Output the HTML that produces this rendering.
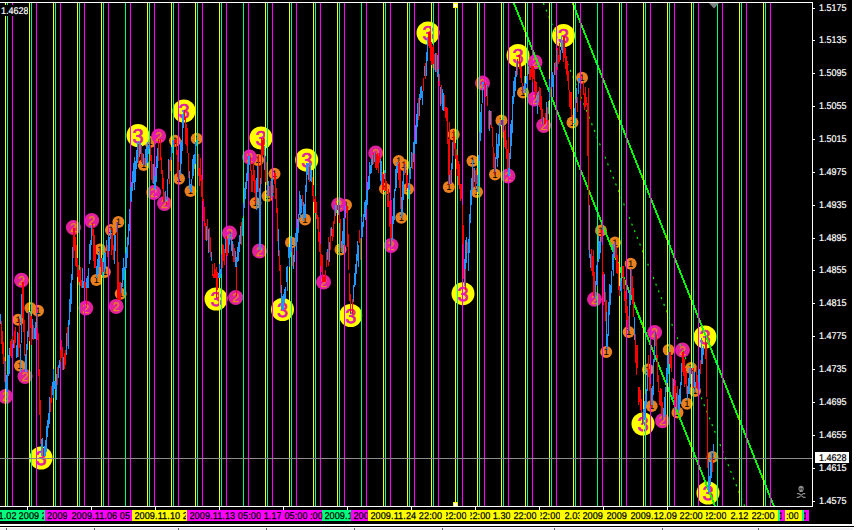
<!DOCTYPE html>
<html><head><meta charset="utf-8"><title>EURUSD H1 chart</title>
<style>
html,body{margin:0;padding:0;background:#fff;overflow:hidden}
#c{position:relative;width:856px;height:530px;background:#fff;overflow:hidden;font-family:"Liberation Sans",sans-serif;font-size:9.8px;line-height:11px;text-rendering:geometricPrecision}
.pl{position:absolute;left:818.5px;transform:scaleX(0.918);transform-origin:0 0;color:#fff;height:11px;letter-spacing:0px;white-space:nowrap;-webkit-text-stroke:0.2px #fff}
.sg{position:absolute;top:510px;height:11px}
#tb{position:absolute;left:0;top:0;width:915px;height:530px;transform:scaleX(0.935);transform-origin:0 0;pointer-events:none}
.tl{position:absolute;top:511px;height:10px;color:#000;white-space:pre;overflow:hidden;letter-spacing:0.07px;-webkit-text-stroke:0.25px #000}
#tl0{position:absolute;left:0;top:5px;width:28px;height:11px;padding-top:1px;overflow:hidden;background:#000;color:#fff;letter-spacing:0px;-webkit-text-stroke:0.2px #fff;padding-left:1px;box-sizing:border-box}
#bid{position:absolute;left:815px;top:452px;width:34px;height:11px;padding-top:1px;overflow:hidden;background:#fff;color:#000;letter-spacing:0px;-webkit-text-stroke:0.2px #000;padding-left:3.5px;box-sizing:border-box}
#sk{position:absolute;left:795px;top:483px;width:12px;height:16px;color:#808080;font-family:"DejaVu Sans",sans-serif;font-size:12px;line-height:16px;text-align:center}
.sx{display:inline-block;transform:scaleX(0.918);transform-origin:0 0}
#bl{position:absolute;left:0;top:526px;width:854px;height:1px;background:#000}
#bg{position:absolute;left:0;top:528px;width:853px;height:2px;background:#f0f0f4}
.bt{position:absolute;top:528px;width:1px;height:2px;background:#606060}
</style></head><body>
<div id="c">
<svg width="852" height="524" viewBox="0 0 852 524" style="position:absolute;left:0;top:0">
<rect width="852" height="524" fill="#000"/>
<g font-family="'Liberation Sans',sans-serif">
<circle cx="18.2" cy="319.7" r="6.0" fill="#e88020"/>
<text x="18.2" y="323.1" font-size="9.5" fill="#000" text-anchor="middle">1</text>
<circle cx="20.0" cy="365.7" r="6.0" fill="#e88020"/>
<text x="20.0" y="369.1" font-size="9.5" fill="#000" text-anchor="middle">1</text>
<circle cx="30.4" cy="308.0" r="6.0" fill="#e88020"/>
<text x="30.4" y="311.4" font-size="9.5" fill="#000" text-anchor="middle">1</text>
<circle cx="38.0" cy="310.7" r="6.0" fill="#e88020"/>
<text x="38.0" y="314.1" font-size="9.5" fill="#000" text-anchor="middle">1</text>
<circle cx="96.4" cy="280.0" r="6.0" fill="#e88020"/>
<text x="96.4" y="283.4" font-size="9.5" fill="#000" text-anchor="middle">1</text>
<circle cx="100.0" cy="249.5" r="6.0" fill="#e88020"/>
<text x="100.0" y="252.9" font-size="9.5" fill="#000" text-anchor="middle">1</text>
<circle cx="102.5" cy="272.0" r="6.0" fill="#e88020"/>
<text x="102.5" y="275.4" font-size="9.5" fill="#000" text-anchor="middle">1</text>
<circle cx="104.8" cy="272.0" r="6.0" fill="#e88020"/>
<text x="104.8" y="275.4" font-size="9.5" fill="#000" text-anchor="middle">1</text>
<circle cx="111.0" cy="230.0" r="6.0" fill="#e88020"/>
<text x="111.0" y="233.4" font-size="9.5" fill="#000" text-anchor="middle">1</text>
<circle cx="118.4" cy="222.0" r="6.0" fill="#e88020"/>
<text x="118.4" y="225.4" font-size="9.5" fill="#000" text-anchor="middle">1</text>
<circle cx="120.7" cy="293.8" r="6.0" fill="#e88020"/>
<text x="120.7" y="297.2" font-size="9.5" fill="#000" text-anchor="middle">1</text>
<circle cx="143.7" cy="165.0" r="6.0" fill="#e88020"/>
<text x="143.7" y="168.4" font-size="9.5" fill="#000" text-anchor="middle">1</text>
<circle cx="150.0" cy="142.0" r="6.0" fill="#e88020"/>
<text x="150.0" y="145.4" font-size="9.5" fill="#000" text-anchor="middle">1</text>
<circle cx="175.0" cy="140.7" r="6.0" fill="#e88020"/>
<text x="175.0" y="144.1" font-size="9.5" fill="#000" text-anchor="middle">1</text>
<circle cx="179.0" cy="178.7" r="6.0" fill="#e88020"/>
<text x="179.0" y="182.1" font-size="9.5" fill="#000" text-anchor="middle">1</text>
<circle cx="190.5" cy="191.0" r="6.0" fill="#e88020"/>
<text x="190.5" y="194.4" font-size="9.5" fill="#000" text-anchor="middle">1</text>
<circle cx="196.7" cy="138.7" r="6.0" fill="#e88020"/>
<text x="196.7" y="142.1" font-size="9.5" fill="#000" text-anchor="middle">1</text>
<circle cx="255.5" cy="203.0" r="6.0" fill="#e88020"/>
<text x="255.5" y="206.4" font-size="9.5" fill="#000" text-anchor="middle">1</text>
<circle cx="258.0" cy="160.0" r="6.0" fill="#e88020"/>
<text x="258.0" y="163.4" font-size="9.5" fill="#000" text-anchor="middle">1</text>
<circle cx="267.5" cy="196.0" r="6.0" fill="#e88020"/>
<text x="267.5" y="199.4" font-size="9.5" fill="#000" text-anchor="middle">1</text>
<circle cx="274.5" cy="173.7" r="6.0" fill="#e88020"/>
<text x="274.5" y="177.1" font-size="9.5" fill="#000" text-anchor="middle">1</text>
<circle cx="291.0" cy="242.5" r="6.0" fill="#e88020"/>
<text x="291.0" y="245.9" font-size="9.5" fill="#000" text-anchor="middle">1</text>
<circle cx="305.0" cy="219.5" r="6.0" fill="#e88020"/>
<text x="305.0" y="222.9" font-size="9.5" fill="#000" text-anchor="middle">1</text>
<circle cx="340.5" cy="249.5" r="6.0" fill="#e88020"/>
<text x="340.5" y="252.9" font-size="9.5" fill="#000" text-anchor="middle">1</text>
<circle cx="346.0" cy="205.0" r="6.0" fill="#e88020"/>
<text x="346.0" y="208.4" font-size="9.5" fill="#000" text-anchor="middle">1</text>
<circle cx="385.0" cy="188.7" r="6.0" fill="#e88020"/>
<text x="385.0" y="192.1" font-size="9.5" fill="#000" text-anchor="middle">1</text>
<circle cx="398.7" cy="161.0" r="6.0" fill="#e88020"/>
<text x="398.7" y="164.4" font-size="9.5" fill="#000" text-anchor="middle">1</text>
<circle cx="401.3" cy="217.8" r="6.0" fill="#e88020"/>
<text x="401.3" y="221.2" font-size="9.5" fill="#000" text-anchor="middle">1</text>
<circle cx="404.0" cy="165.0" r="6.0" fill="#e88020"/>
<text x="404.0" y="168.4" font-size="9.5" fill="#000" text-anchor="middle">1</text>
<circle cx="408.0" cy="189.0" r="6.0" fill="#e88020"/>
<text x="408.0" y="192.4" font-size="9.5" fill="#000" text-anchor="middle">1</text>
<circle cx="448.8" cy="187.0" r="6.0" fill="#e88020"/>
<text x="448.8" y="190.4" font-size="9.5" fill="#000" text-anchor="middle">1</text>
<circle cx="453.7" cy="134.5" r="6.0" fill="#e88020"/>
<text x="453.7" y="137.9" font-size="9.5" fill="#000" text-anchor="middle">1</text>
<circle cx="472.5" cy="161.0" r="6.0" fill="#e88020"/>
<text x="472.5" y="164.4" font-size="9.5" fill="#000" text-anchor="middle">1</text>
<circle cx="477.0" cy="192.0" r="6.0" fill="#e88020"/>
<text x="477.0" y="195.4" font-size="9.5" fill="#000" text-anchor="middle">1</text>
<circle cx="495.0" cy="174.5" r="6.0" fill="#e88020"/>
<text x="495.0" y="177.9" font-size="9.5" fill="#000" text-anchor="middle">1</text>
<circle cx="501.5" cy="120.5" r="6.0" fill="#e88020"/>
<text x="501.5" y="123.9" font-size="9.5" fill="#000" text-anchor="middle">1</text>
<circle cx="523.0" cy="92.5" r="6.0" fill="#e88020"/>
<text x="523.0" y="95.9" font-size="9.5" fill="#000" text-anchor="middle">1</text>
<circle cx="572.5" cy="122.5" r="6.0" fill="#e88020"/>
<text x="572.5" y="125.9" font-size="9.5" fill="#000" text-anchor="middle">1</text>
<circle cx="582.0" cy="77.8" r="6.0" fill="#e88020"/>
<text x="582.0" y="81.2" font-size="9.5" fill="#000" text-anchor="middle">1</text>
<circle cx="601.0" cy="230.5" r="6.0" fill="#e88020"/>
<text x="601.0" y="233.9" font-size="9.5" fill="#000" text-anchor="middle">1</text>
<circle cx="606.2" cy="352.0" r="6.0" fill="#e88020"/>
<text x="606.2" y="355.4" font-size="9.5" fill="#000" text-anchor="middle">1</text>
<circle cx="615.0" cy="242.5" r="6.0" fill="#e88020"/>
<text x="615.0" y="245.9" font-size="9.5" fill="#000" text-anchor="middle">1</text>
<circle cx="630.7" cy="263.7" r="6.0" fill="#e88020"/>
<text x="630.7" y="267.1" font-size="9.5" fill="#000" text-anchor="middle">1</text>
<circle cx="628.7" cy="332.0" r="6.0" fill="#e88020"/>
<text x="628.7" y="335.4" font-size="9.5" fill="#000" text-anchor="middle">1</text>
<circle cx="648.0" cy="369.5" r="6.0" fill="#e88020"/>
<text x="648.0" y="372.9" font-size="9.5" fill="#000" text-anchor="middle">1</text>
<circle cx="651.7" cy="406.0" r="6.0" fill="#e88020"/>
<text x="651.7" y="409.4" font-size="9.5" fill="#000" text-anchor="middle">1</text>
<circle cx="668.7" cy="350.0" r="6.0" fill="#e88020"/>
<text x="668.7" y="353.4" font-size="9.5" fill="#000" text-anchor="middle">1</text>
<circle cx="677.5" cy="412.5" r="6.0" fill="#e88020"/>
<text x="677.5" y="415.9" font-size="9.5" fill="#000" text-anchor="middle">1</text>
<circle cx="687.0" cy="403.7" r="6.0" fill="#e88020"/>
<text x="687.0" y="407.1" font-size="9.5" fill="#000" text-anchor="middle">1</text>
<circle cx="691.0" cy="368.0" r="6.0" fill="#e88020"/>
<text x="691.0" y="371.4" font-size="9.5" fill="#000" text-anchor="middle">1</text>
<circle cx="695.0" cy="391.0" r="6.0" fill="#e88020"/>
<text x="695.0" y="394.4" font-size="9.5" fill="#000" text-anchor="middle">1</text>
<circle cx="712.5" cy="457.0" r="6.0" fill="#e88020"/>
<text x="712.5" y="460.4" font-size="9.5" fill="#000" text-anchor="middle">1</text>
<circle cx="5.5" cy="396.5" r="7.5" fill="#e0209c"/>
<text x="5.5" y="401.0" font-size="12.5" fill="#e88020" stroke="#e88020" stroke-width="0.3" text-anchor="middle">2</text>
<circle cx="21.5" cy="280.3" r="7.5" fill="#e0209c"/>
<text x="21.5" y="284.8" font-size="12.5" fill="#e88020" stroke="#e88020" stroke-width="0.3" text-anchor="middle">2</text>
<circle cx="25.0" cy="376.5" r="7.5" fill="#e0209c"/>
<text x="25.0" y="381.0" font-size="12.5" fill="#e88020" stroke="#e88020" stroke-width="0.3" text-anchor="middle">2</text>
<circle cx="73.4" cy="227.5" r="7.5" fill="#e0209c"/>
<text x="73.4" y="232.0" font-size="12.5" fill="#e88020" stroke="#e88020" stroke-width="0.3" text-anchor="middle">2</text>
<circle cx="91.7" cy="220.6" r="7.5" fill="#e0209c"/>
<text x="91.7" y="225.1" font-size="12.5" fill="#e88020" stroke="#e88020" stroke-width="0.3" text-anchor="middle">2</text>
<circle cx="85.8" cy="308.0" r="7.5" fill="#e0209c"/>
<text x="85.8" y="312.5" font-size="12.5" fill="#e88020" stroke="#e88020" stroke-width="0.3" text-anchor="middle">2</text>
<circle cx="116.2" cy="306.4" r="7.5" fill="#e0209c"/>
<text x="116.2" y="310.9" font-size="12.5" fill="#e88020" stroke="#e88020" stroke-width="0.3" text-anchor="middle">2</text>
<circle cx="158.7" cy="136.0" r="7.5" fill="#e0209c"/>
<text x="158.7" y="140.5" font-size="12.5" fill="#e88020" stroke="#e88020" stroke-width="0.3" text-anchor="middle">2</text>
<circle cx="153.7" cy="192.5" r="7.5" fill="#e0209c"/>
<text x="153.7" y="197.0" font-size="12.5" fill="#e88020" stroke="#e88020" stroke-width="0.3" text-anchor="middle">2</text>
<circle cx="164.5" cy="203.5" r="7.5" fill="#e0209c"/>
<text x="164.5" y="208.0" font-size="12.5" fill="#e88020" stroke="#e88020" stroke-width="0.3" text-anchor="middle">2</text>
<circle cx="229.5" cy="233.0" r="7.5" fill="#e0209c"/>
<text x="229.5" y="237.5" font-size="12.5" fill="#e88020" stroke="#e88020" stroke-width="0.3" text-anchor="middle">2</text>
<circle cx="235.7" cy="297.5" r="7.5" fill="#e0209c"/>
<text x="235.7" y="302.0" font-size="12.5" fill="#e88020" stroke="#e88020" stroke-width="0.3" text-anchor="middle">2</text>
<circle cx="249.5" cy="157.0" r="7.5" fill="#e0209c"/>
<text x="249.5" y="161.5" font-size="12.5" fill="#e88020" stroke="#e88020" stroke-width="0.3" text-anchor="middle">2</text>
<circle cx="259.5" cy="251.0" r="7.5" fill="#e0209c"/>
<text x="259.5" y="255.5" font-size="12.5" fill="#e88020" stroke="#e88020" stroke-width="0.3" text-anchor="middle">2</text>
<circle cx="323.5" cy="282.0" r="7.5" fill="#e0209c"/>
<text x="323.5" y="286.5" font-size="12.5" fill="#e88020" stroke="#e88020" stroke-width="0.3" text-anchor="middle">2</text>
<circle cx="338.7" cy="204.7" r="7.5" fill="#e0209c"/>
<text x="338.7" y="209.2" font-size="12.5" fill="#e88020" stroke="#e88020" stroke-width="0.3" text-anchor="middle">2</text>
<circle cx="375.7" cy="153.0" r="7.5" fill="#e0209c"/>
<text x="375.7" y="157.5" font-size="12.5" fill="#e88020" stroke="#e88020" stroke-width="0.3" text-anchor="middle">2</text>
<circle cx="391.0" cy="245.5" r="7.5" fill="#e0209c"/>
<text x="391.0" y="250.0" font-size="12.5" fill="#e88020" stroke="#e88020" stroke-width="0.3" text-anchor="middle">2</text>
<circle cx="482.5" cy="83.0" r="7.5" fill="#e0209c"/>
<text x="482.5" y="87.5" font-size="12.5" fill="#e88020" stroke="#e88020" stroke-width="0.3" text-anchor="middle">2</text>
<circle cx="508.0" cy="176.0" r="7.5" fill="#e0209c"/>
<text x="508.0" y="180.5" font-size="12.5" fill="#e88020" stroke="#e88020" stroke-width="0.3" text-anchor="middle">2</text>
<circle cx="535.0" cy="62.0" r="7.5" fill="#e0209c"/>
<text x="535.0" y="66.5" font-size="12.5" fill="#e88020" stroke="#e88020" stroke-width="0.3" text-anchor="middle">2</text>
<circle cx="534.5" cy="99.0" r="7.5" fill="#e0209c"/>
<text x="534.5" y="103.5" font-size="12.5" fill="#e88020" stroke="#e88020" stroke-width="0.3" text-anchor="middle">2</text>
<circle cx="543.7" cy="125.5" r="7.5" fill="#e0209c"/>
<text x="543.7" y="130.0" font-size="12.5" fill="#e88020" stroke="#e88020" stroke-width="0.3" text-anchor="middle">2</text>
<circle cx="594.5" cy="299.3" r="7.5" fill="#e0209c"/>
<text x="594.5" y="303.8" font-size="12.5" fill="#e88020" stroke="#e88020" stroke-width="0.3" text-anchor="middle">2</text>
<circle cx="654.6" cy="332.5" r="7.5" fill="#e0209c"/>
<text x="654.6" y="337.0" font-size="12.5" fill="#e88020" stroke="#e88020" stroke-width="0.3" text-anchor="middle">2</text>
<circle cx="682.5" cy="350.0" r="7.5" fill="#e0209c"/>
<text x="682.5" y="354.5" font-size="12.5" fill="#e88020" stroke="#e88020" stroke-width="0.3" text-anchor="middle">2</text>
<circle cx="662.5" cy="420.8" r="7.5" fill="#e0209c"/>
<text x="662.5" y="425.3" font-size="12.5" fill="#e88020" stroke="#e88020" stroke-width="0.3" text-anchor="middle">2</text>
<circle cx="41.0" cy="458.0" r="11.5" fill="#ffff00"/>
<text x="41.0" y="465.1" font-size="20" fill="#e0209c" stroke="#e0209c" stroke-width="0.7" text-anchor="middle">3</text>
<circle cx="138.0" cy="135.5" r="11.5" fill="#ffff00"/>
<text x="138.0" y="142.6" font-size="20" fill="#e0209c" stroke="#e0209c" stroke-width="0.7" text-anchor="middle">3</text>
<circle cx="184.0" cy="111.0" r="11.5" fill="#ffff00"/>
<text x="184.0" y="118.1" font-size="20" fill="#e0209c" stroke="#e0209c" stroke-width="0.7" text-anchor="middle">3</text>
<circle cx="216.0" cy="299.0" r="11.5" fill="#ffff00"/>
<text x="216.0" y="306.1" font-size="20" fill="#e0209c" stroke="#e0209c" stroke-width="0.7" text-anchor="middle">3</text>
<circle cx="261.0" cy="138.0" r="11.5" fill="#ffff00"/>
<text x="261.0" y="145.1" font-size="20" fill="#e0209c" stroke="#e0209c" stroke-width="0.7" text-anchor="middle">3</text>
<circle cx="282.5" cy="309.5" r="11.5" fill="#ffff00"/>
<text x="282.5" y="316.6" font-size="20" fill="#e0209c" stroke="#e0209c" stroke-width="0.7" text-anchor="middle">3</text>
<circle cx="306.7" cy="160.0" r="11.5" fill="#ffff00"/>
<text x="306.7" y="167.1" font-size="20" fill="#e0209c" stroke="#e0209c" stroke-width="0.7" text-anchor="middle">3</text>
<circle cx="350.7" cy="315.5" r="11.5" fill="#ffff00"/>
<text x="350.7" y="322.6" font-size="20" fill="#e0209c" stroke="#e0209c" stroke-width="0.7" text-anchor="middle">3</text>
<circle cx="428.0" cy="33.0" r="11.5" fill="#ffff00"/>
<text x="428.0" y="40.1" font-size="20" fill="#e0209c" stroke="#e0209c" stroke-width="0.7" text-anchor="middle">3</text>
<circle cx="463.0" cy="293.7" r="11.5" fill="#ffff00"/>
<text x="463.0" y="300.8" font-size="20" fill="#e0209c" stroke="#e0209c" stroke-width="0.7" text-anchor="middle">3</text>
<circle cx="518.0" cy="55.5" r="11.5" fill="#ffff00"/>
<text x="518.0" y="62.6" font-size="20" fill="#e0209c" stroke="#e0209c" stroke-width="0.7" text-anchor="middle">3</text>
<circle cx="563.5" cy="35.5" r="11.5" fill="#ffff00"/>
<text x="563.5" y="42.6" font-size="20" fill="#e0209c" stroke="#e0209c" stroke-width="0.7" text-anchor="middle">3</text>
<circle cx="643.0" cy="424.0" r="11.5" fill="#ffff00"/>
<text x="643.0" y="431.1" font-size="20" fill="#e0209c" stroke="#e0209c" stroke-width="0.7" text-anchor="middle">3</text>
<circle cx="705.0" cy="337.0" r="11.5" fill="#ffff00"/>
<text x="705.0" y="344.1" font-size="20" fill="#e0209c" stroke="#e0209c" stroke-width="0.7" text-anchor="middle">3</text>
<circle cx="708.0" cy="493.0" r="11.5" fill="#ffff00"/>
<text x="708.0" y="500.1" font-size="20" fill="#e0209c" stroke="#e0209c" stroke-width="0.7" text-anchor="middle">3</text>
</g>
<clipPath id="cp"><rect x="0" y="3" width="812" height="503"/></clipPath>
<g clip-path="url(#cp)" shape-rendering="crispEdges" fill="none">
<path d="M513.8 3.0L715.0 506.0M572.6 3.0L773.8 506.0" stroke="#00ff00" stroke-width="2"/>
<path d="M543.4 3.0L744.6 506.0" stroke="#00ff00" stroke-width="1.15" stroke-dasharray="2 5.2" shape-rendering="auto"/>
</g>
<g shape-rendering="crispEdges" fill="none" stroke-width="1">
<path d="M5.5 3V506M29.5 3V506M53.5 3V506M77.5 3V506M101.5 3V506M147.5 3V506M171.5 3V506M195.5 3V506M219.5 3V506M265.5 3V506M289.5 3V506M313.5 3V506M337.5 3V506M383.5 3V506M407.5 3V506M431.5 3V506M455.5 3V506M477.5 3V506M501.5 3V506M525.5 3V506M549.5 3V506M573.5 3V506M619.5 3V506M643.5 3V506M667.5 3V506M691.5 3V506M739.5 3V506M763.5 3V506" stroke="#ffff00"/>
<path d="M7.5 3V506M31.5 3V506M55.5 3V506M79.5 3V506M103.5 3V506M125.5 3V506M149.5 3V506M173.5 3V506M197.5 3V506M221.5 3V506M243.5 3V506M267.5 3V506M291.5 3V506M315.5 3V506M339.5 3V506M361.5 3V506M385.5 3V506M409.5 3V506M433.5 3V506M457.5 3V506M479.5 3V506M503.5 3V506M527.5 3V506M551.5 3V506M575.5 3V506M597.5 3V506M621.5 3V506M645.5 3V506M669.5 3V506M693.5 3V506M717.5 3V506M741.5 3V506M765.5 3V506" stroke="#00ff7f"/>
<path d="M12.5 3V506M36.5 3V506M60.5 3V506M84.5 3V506M108.5 3V506M130.5 3V506M154.5 3V506M178.5 3V506M202.5 3V506M226.5 3V506M248.5 3V506M272.5 3V506M296.5 3V506M320.5 3V506M344.5 3V506M366.5 3V506M390.5 3V506M414.5 3V506M438.5 3V506M462.5 3V506M484.5 3V506M508.5 3V506M532.5 3V506M556.5 3V506M580.5 3V506M602.5 3V506M626.5 3V506M650.5 3V506M674.5 3V506M698.5 3V506M722.5 3V506M746.5 3V506M770.5 3V506" stroke="#ff00ff"/>
<path d="M0 458.5H812" stroke="#8c8c8c"/>
</g>
<g shape-rendering="crispEdges" fill="none" stroke-width="1">
<path d="M1.5 321V344M2.5 331V354M3.5 342V364M4.5 357V382M10.5 341V356M11.5 339V358M12.5 336V344M14.5 331V348M15.5 327V343M18.5 333V357M19.5 319V348M22.5 282V318M23.5 282V332M24.5 320V356M29.5 312V341M30.5 314V328M31.5 316V345M33.5 325V340M37.5 314V340M38.5 333V376M39.5 369V415M40.5 400V444M43.5 448V456M50.5 398V412M51.5 386V403M57.5 367V385M60.5 350V362M61.5 340V358M62.5 347V370M64.5 353V369M65.5 350V365M67.5 327V346M73.5 228V258M74.5 228V251M75.5 237V266M76.5 245V267M77.5 258V277M78.5 265V285M79.5 270V282M80.5 267V286M81.5 280V288M84.5 282V288M85.5 282V288M92.5 223V236M93.5 229V261M94.5 235V268M95.5 245V268M100.5 250V267M101.5 258V275M103.5 262V272M107.5 245V257M111.5 234V255M112.5 228V250M113.5 245V260M117.5 222V267M118.5 262V300M119.5 282V300M120.5 282V300M138.5 144V164M141.5 145V162M142.5 153V164M144.5 158V165M150.5 145V161M151.5 155V180M152.5 164V183M158.5 139V161M159.5 139V139M160.5 139V160M161.5 157V174M162.5 170V189M163.5 178V202M164.5 192V202M166.5 205V202M169.5 160V184M170.5 157V171M174.5 140V147M175.5 140V143M176.5 138V155M177.5 150V177M178.5 162V179M184.5 110V120M185.5 117V144M186.5 124V146M187.5 128V153M188.5 153V178M197.5 140V140M198.5 154V176M199.5 168V186M200.5 158V181M201.5 175V197M202.5 180V201M203.5 199V221M204.5 207V226M205.5 223V240M207.5 219V240M209.5 228V252M210.5 237V257M212.5 264V276M213.5 274V278M214.5 263V278M215.5 269V278M216.5 267V278M217.5 272V278M222.5 244V268M223.5 245V261M224.5 249V265M226.5 236V255M227.5 240V256M230.5 232V234M233.5 244V262M234.5 248V262M241.5 222V245M250.5 157V171M251.5 170V192M252.5 175V192M253.5 163V181M254.5 170V193M255.5 180V203M258.5 155V192M261.5 138V184M262.5 140V156M263.5 138V155M265.5 156V182M266.5 162V185M269.5 186V196M270.5 181V201M273.5 185V193M274.5 173V184M275.5 173V199M276.5 188V213M277.5 208V241M279.5 250V271M280.5 265V293M292.5 248V266M302.5 195V206M309.5 167V182M312.5 177V196M313.5 185V202M314.5 199V213M315.5 196V213M316.5 202V219M317.5 215V229M318.5 217V242M319.5 232V252M320.5 244V266M321.5 254V272M322.5 255V282M323.5 277V282M324.5 276V282M325.5 270V282M326.5 252V267M328.5 237V266M330.5 228V250M332.5 229V241M333.5 221V237M334.5 211V224M337.5 205V210M339.5 205V223M340.5 219V248M346.5 206V213M347.5 206V247M348.5 234V270M349.5 273V301M350.5 294V314M352.5 299V314M359.5 230V243M360.5 238V260M373.5 153V164M375.5 153V168M376.5 154V170M377.5 153V168M378.5 156V173M379.5 153V163M382.5 172V193M383.5 174V190M385.5 173V191M386.5 181V194M387.5 195V207M388.5 189V207M389.5 201V227M390.5 224V246M398.5 164V180M399.5 162V188M400.5 169V209M404.5 162V175M406.5 170V190M407.5 175V188M412.5 153V169M418.5 98V120M423.5 78V91M425.5 63V79M428.5 32V46M429.5 32V48M430.5 33V61M431.5 42V65M432.5 47V68M433.5 45V64M434.5 54V70M436.5 53V72M439.5 74V86M441.5 85V104M444.5 95V111M445.5 107V118M446.5 107V121M447.5 108V144M448.5 139V184M450.5 170V184M453.5 130V156M454.5 136V149M455.5 143V159M456.5 149V169M457.5 155V176M458.5 161V185M459.5 164V189M460.5 184V201M461.5 184V199M462.5 205V244M463.5 225V279M467.5 242V253M473.5 168V187M475.5 170V188M476.5 168V184M484.5 82V85M485.5 84V97M487.5 86V106M488.5 111V129M491.5 111V128M492.5 127V147M493.5 147V168M494.5 153V175M501.5 120V125M502.5 120V138M504.5 130V147M505.5 126V149M506.5 140V159M507.5 149V170M517.5 59V75M518.5 55V57M519.5 55V69M520.5 62V78M521.5 67V83M522.5 83V93M529.5 66V80M530.5 69V80M531.5 66V77M532.5 66V82M533.5 66V79M534.5 70V91M535.5 81V98M536.5 82V95M539.5 87V107M540.5 88V110M541.5 96V119M542.5 109V124M544.5 118V124M545.5 113V124M547.5 107V121M550.5 87V97M555.5 62V75M557.5 48V70M558.5 55V64M559.5 43V62M563.5 36V62M564.5 36V58M565.5 48V69M566.5 56V75M567.5 61V81M568.5 71V90M569.5 90V107M570.5 92V109M571.5 92V117M572.5 115V123M577.5 97V112M580.5 89V101M582.5 78V77M583.5 82V95M584.5 93V110M585.5 87V107M586.5 97V105M587.5 103V156M588.5 129V221M591.5 249V271M592.5 256V276M593.5 267V295M594.5 272V297M601.5 230V242M602.5 245V275M603.5 272V305M605.5 292V321M615.5 242V258M616.5 247V273M617.5 255V274M618.5 263V290M619.5 286V296M622.5 266V277M623.5 266V289M624.5 279V301M625.5 291V313M626.5 299V320M627.5 306V328M628.5 316V330M631.5 269V295M632.5 276V304M633.5 288V317M635.5 334V363M636.5 345V375M637.5 345V368M638.5 387V405M639.5 387V402M640.5 390V410M641.5 399V412M642.5 412V424M648.5 355V377M649.5 369V391M650.5 384V406M655.5 332V346M656.5 335V358M657.5 355V382M658.5 375V392M659.5 391V405M660.5 388V406M661.5 389V414M662.5 402V420M669.5 352V364M670.5 352V368M671.5 356V372M672.5 378V397M674.5 386V400M675.5 380V407M677.5 386V409M682.5 352V372M683.5 351V376M684.5 359V387M685.5 368V384M686.5 372V394M691.5 368V374M693.5 368V388M696.5 367V388M697.5 375V389M700.5 360V374M705.5 336V359M706.5 343V397M707.5 399V468M712.5 458V472M588.5 88V250M86.5 285V305M216.5 270V298M217.5 272V290M236.5 262V296M260.5 200V247M465.5 240V290M593.5 250V296M606.5 300V348M117.5 224V300M391.5 200V242M508.5 137V172M449.5 122V185" stroke="#ff0000"/>
<path d="M0.5 314V324M5.5 361V389M6.5 375V392M7.5 374V392M8.5 355V376M9.5 348V374M13.5 340V348M16.5 345V358M17.5 332V357M20.5 344V372M21.5 294V343M25.5 354V372M26.5 344V372M27.5 331V350M28.5 311V337M32.5 319V339M34.5 328V339M35.5 322V339M36.5 313V328M41.5 439V456M42.5 438V456M44.5 446V456M45.5 440V456M46.5 426V452M47.5 420V437M48.5 413V428M49.5 397V424M52.5 382V395M53.5 369V398M54.5 381V389M55.5 381V390M56.5 374V400M58.5 365V378M59.5 360V368M63.5 357V370M66.5 333V355M68.5 320V349M69.5 299V325M70.5 283V312M71.5 274V304M72.5 247V280M82.5 268V288M83.5 281V288M86.5 278V288M87.5 276V288M88.5 268V288M89.5 244V264M90.5 240V260M91.5 225V245M96.5 266V278M97.5 259V275M98.5 255V274M99.5 251V267M102.5 258V276M104.5 253V272M105.5 252V269M106.5 240V251M108.5 234V251M109.5 237V251M110.5 230V239M114.5 235V264M115.5 235V251M116.5 222V232M121.5 283V293M122.5 268V287M123.5 258V280M124.5 267V295M125.5 253V270M126.5 247V268M127.5 237V258M128.5 224V245M129.5 209V231M130.5 187V201M131.5 182V202M132.5 171V191M133.5 163V183M134.5 157V190M135.5 161V182M136.5 150V169M137.5 142V163M139.5 141V157M140.5 143V154M143.5 154V165M145.5 149V165M146.5 147V166M147.5 142V163M148.5 145V154M149.5 142V149M153.5 164V184M154.5 176V190M155.5 167V189M156.5 156V182M157.5 148V168M165.5 191V202M167.5 179V201M168.5 159V179M171.5 147V160M172.5 140V153M173.5 140V145M179.5 170V179M180.5 142V175M181.5 140V164M182.5 114V151M183.5 110V128M189.5 171V189M190.5 184V192M191.5 179V192M192.5 159V179M193.5 155V176M194.5 154V169M195.5 142V164M196.5 140V146M206.5 226V241M208.5 229V253M211.5 252V261M218.5 273V278M219.5 264V278M220.5 269V278M221.5 254V274M225.5 239V253M228.5 239V253M229.5 235V245M231.5 232V251M232.5 241V256M235.5 251V267M236.5 257V267M237.5 247V262M238.5 242V261M239.5 235V252M240.5 226V244M242.5 218V236M243.5 203V216M244.5 188V208M245.5 182V199M246.5 173V189M247.5 164V181M248.5 156V173M249.5 156V165M256.5 178V210M257.5 166V192M259.5 188V250M260.5 178V250M264.5 146V170M267.5 185V196M268.5 181V196M271.5 179V198M272.5 178V196M278.5 229V256M281.5 285V309M282.5 296V310M283.5 294V310M284.5 289V303M285.5 287V299M286.5 267V282M287.5 266V291M288.5 244V258M289.5 247V267M290.5 236V257M291.5 238V252M293.5 255V269M294.5 247V262M295.5 233V246M296.5 228V251M297.5 219V242M298.5 214V233M299.5 191V215M300.5 195V218M301.5 199V213M303.5 202V221M304.5 204V218M305.5 185V218M306.5 163V192M307.5 163V175M308.5 163V180M310.5 163V181M311.5 170V182M327.5 249V260M329.5 242V262M331.5 227V236M335.5 205V216M336.5 205V213M338.5 205V215M341.5 241V248M342.5 231V253M343.5 218V244M344.5 219V245M345.5 206V218M351.5 312V314M353.5 285V302M354.5 273V287M355.5 264V285M356.5 254V274M357.5 241V261M358.5 245V267M361.5 217V239M362.5 222V237M363.5 214V227M364.5 202V217M365.5 200V220M366.5 190V209M367.5 182V205M368.5 176V190M369.5 162V189M370.5 165V174M371.5 159V173M372.5 155V165M374.5 153V162M380.5 159V181M381.5 161V185M384.5 170V179M391.5 238V246M392.5 216V240M393.5 198V224M394.5 189V220M395.5 169V191M396.5 166V188M397.5 162V173M401.5 197V218M402.5 181V215M403.5 171V200M405.5 164V173M408.5 185V199M409.5 173V190M410.5 167V179M411.5 152V168M413.5 142V162M414.5 140V154M415.5 125V144M416.5 114V144M417.5 103V127M419.5 94V116M420.5 87V100M421.5 86V98M422.5 91V105M424.5 66V76M426.5 52V76M427.5 37V61M435.5 53V72M437.5 55V77M438.5 69V81M440.5 87V106M442.5 89V110M443.5 93V111M449.5 175V184M451.5 163V184M452.5 142V169M464.5 259V286M465.5 240V269M466.5 237V263M468.5 239V271M469.5 214V253M470.5 190V223M471.5 178V205M472.5 160V190M474.5 168V182M477.5 175V192M478.5 155V186M479.5 132V161M480.5 112V141M481.5 104V133M482.5 82V103M483.5 82V84M486.5 85V96M489.5 110V131M490.5 111V125M495.5 157V172M496.5 133V159M497.5 144V167M498.5 134V158M499.5 123V146M500.5 120V126M503.5 120V132M508.5 168V176M509.5 153V176M510.5 124V159M511.5 120V146M512.5 96V133M513.5 81V104M514.5 77V97M515.5 71V91M516.5 61V77M523.5 86V93M524.5 76V89M525.5 83V93M526.5 76V84M527.5 75V88M528.5 66V74M537.5 93V114M538.5 91V102M543.5 117V124M546.5 102V120M548.5 101V114M549.5 79V100M551.5 71V89M552.5 72V87M553.5 75V97M554.5 63V75M556.5 50V67M560.5 50V60M561.5 36V50M562.5 40V53M573.5 124V123M574.5 108V123M575.5 99V118M576.5 88V103M578.5 78V94M579.5 78V81M581.5 78V78M589.5 205V258M590.5 254V268M595.5 281V298M596.5 265V285M597.5 261V286M598.5 236V262M599.5 241V259M600.5 237V253M604.5 274V302M606.5 312V347M607.5 334V350M608.5 302V336M609.5 284V315M610.5 285V305M611.5 271V293M612.5 254V270M613.5 244V276M614.5 242V257M620.5 278V291M621.5 281V292M629.5 290V331M630.5 269V305M634.5 317V340M643.5 409V424M644.5 401V420M645.5 394V418M646.5 389V405M647.5 370V391M651.5 388V405M652.5 386V405M653.5 359V395M654.5 332V362M663.5 408V420M664.5 397V417M665.5 387V415M666.5 368V392M667.5 355V383M668.5 352V374M673.5 379V399M676.5 393V409M678.5 395V413M679.5 389V410M680.5 382V404M681.5 363V385M687.5 386V400M688.5 378V394M689.5 368V394M690.5 367V384M692.5 371V387M694.5 372V386M695.5 382V392M698.5 370V382M699.5 369V390M701.5 338V364M702.5 348V364M703.5 346V355M704.5 336V338M708.5 460V492M709.5 476V492M710.5 462V485M711.5 451V478M713.5 444V457" stroke="#2196ff"/>
</g>
<g shape-rendering="crispEdges" fill="#fff">
<rect x="0" y="2" width="813" height="1"/>
<rect x="812" y="2" width="1" height="505"/>
<rect x="0" y="506" width="813" height="1"/>
<rect x="813" y="8" width="2" height="1"/>
<rect x="813" y="40" width="2" height="1"/>
<rect x="813" y="73" width="2" height="1"/>
<rect x="813" y="106" width="2" height="1"/>
<rect x="813" y="139" width="2" height="1"/>
<rect x="813" y="172" width="2" height="1"/>
<rect x="813" y="205" width="2" height="1"/>
<rect x="813" y="238" width="2" height="1"/>
<rect x="813" y="270" width="2" height="1"/>
<rect x="813" y="303" width="2" height="1"/>
<rect x="813" y="336" width="2" height="1"/>
<rect x="813" y="369" width="2" height="1"/>
<rect x="813" y="402" width="2" height="1"/>
<rect x="813" y="435" width="2" height="1"/>
<rect x="813" y="468" width="2" height="1"/>
<rect x="813" y="501" width="2" height="1"/>
<rect x="27" y="507" width="1" height="3"/>
<rect x="91" y="507" width="1" height="3"/>
<rect x="155" y="507" width="1" height="3"/>
<rect x="219" y="507" width="1" height="3"/>
<rect x="283" y="507" width="1" height="3"/>
<rect x="347" y="507" width="1" height="3"/>
<rect x="411" y="507" width="1" height="3"/>
<rect x="475" y="507" width="1" height="3"/>
<rect x="539" y="507" width="1" height="3"/>
<rect x="603" y="507" width="1" height="3"/>
<rect x="667" y="507" width="1" height="3"/>
</g>
<path d="M709 3H719L714 8.5Z" fill="#808080"/>
<g shape-rendering="crispEdges"><rect x="453" y="3" width="5" height="5" fill="#ffff00"/><rect x="454" y="4" width="3" height="3" fill="#fff"/><rect x="453" y="502" width="5" height="4" fill="#ffff00"/><rect x="454" y="503" width="3" height="3" fill="#fff"/></g>
<g fill="none" stroke="#8a8a8a" stroke-width="1.1" stroke-linecap="round"><path d="M798.5 488.3a2.6 2.6 0 0 1 5.2 0v1.6l-1 .9v1.2h-3.2v-1.2l-1-.9z" fill="#8a8a8a" stroke="none"/><circle cx="800.1" cy="488.9" r=".75" fill="#000" stroke="none"/><circle cx="802.1" cy="488.9" r=".75" fill="#000" stroke="none"/><path d="M797.4 493.6h1.6l4.6 3.8h1.5M804.9 493.6h-1.6l-4.6 3.8h-1.5"/></g>
</svg>

<div id="tl0"><span class="sx">1.4628</span></div>
<div id="bid"><span class="sx">1.4628</span></div>
<div class="pl" style="top:3px">1.5175</div>
<div class="pl" style="top:35px">1.5135</div>
<div class="pl" style="top:68px">1.5095</div>
<div class="pl" style="top:101px">1.5055</div>
<div class="pl" style="top:134px">1.5015</div>
<div class="pl" style="top:167px">1.4975</div>
<div class="pl" style="top:200px">1.4935</div>
<div class="pl" style="top:233px">1.4895</div>
<div class="pl" style="top:265px">1.4855</div>
<div class="pl" style="top:298px">1.4815</div>
<div class="pl" style="top:331px">1.4775</div>
<div class="pl" style="top:364px">1.4735</div>
<div class="pl" style="top:397px">1.4695</div>
<div class="pl" style="top:430px">1.4655</div>
<div class="pl" style="top:463px">1.4615</div>
<div class="pl" style="top:496px">1.4575</div>
<div class="sg" style="left:0px;width:45px;background:#00ff7f"></div>
<div class="sg" style="left:45px;width:87px;background:#ff00ff"></div>
<div class="sg" style="left:132px;width:55px;background:#ffff00"></div>
<div class="sg" style="left:187px;width:135px;background:#ff00ff"></div>
<div class="sg" style="left:322px;width:29px;background:#00ff7f"></div>
<div class="sg" style="left:351px;width:17px;background:#ff00ff"></div>
<div class="sg" style="left:368px;width:410px;background:#ffff00"></div>
<div class="sg" style="left:778px;width:2px;background:#00ff7f"></div>
<div class="sg" style="left:780px;width:5px;background:#ff00ff"></div>
<div class="sg" style="left:785px;width:17px;background:#ffff00"></div>
<div class="sg" style="left:802px;width:2px;background:#00ff7f"></div>
<div class="sg" style="left:804px;width:5px;background:#ff00ff"></div>
<div id="tb">
<div class="tl" style="left:-1.60px">1.02</div>
<div class="tl" style="left:19.89px;width:27.59px">2009 2</div>
<div class="tl" style="left:50.37px">2009</div>
<div class="tl" style="left:76.36px">2009.11.06 05</div>
<div class="tl" style="left:143.74px;width:55.61px">2009.11.10 2</div>
<div class="tl" style="left:202.57px">2009.11.13 05:00</div>
<div class="tl" style="left:282.03px">1.17</div>
<div class="tl" style="left:304.17px">05:00</div>
<div class="tl" style="left:331.44px">:00</div>
<div class="tl" style="left:346.95px;width:27.81px">2009.1</div>
<div class="tl" style="left:377.97px;width:14.97px">200</div>
<div class="tl" style="left:396.15px">2009.11.24 22:00</div>
<div class="tl" style="left:526.95px">1.30</div>
<div class="tl" style="left:549.09px">22:00</div>
<div class="tl" style="left:603.64px;width:16.58px">2.03</div>
<div class="tl" style="left:622.89px">2009</div>
<div class="tl" style="left:648.56px">2009</div>
<div class="tl" style="left:674.22px">2009.12.09 22:00</div>
<div class="tl" style="left:781.18px">2.12</div>
<div class="tl" style="left:803.64px">22:00</div>
<div class="tl" style="left:840.53px">:00</div>
<div class="tl" style="left:477.01px;width:21.93px"><span style="margin-left:-2.9px">22:00</span></div>
<div class="tl" style="left:502.67px;width:21.93px"><span style="margin-left:-2.9px">22:00</span></div>
<div class="tl" style="left:577.54px;width:21.93px"><span style="margin-left:-2.9px">22:00</span></div>
<div class="tl" style="left:755.08px;width:21.93px"><span style="margin-left:-2.9px">22:00</span></div>
<div class="tl" style="left:834.22px;width:1.8px"><span style="margin-left:-1.6px">1</span></div>
<div class="tl" style="left:859.89px;width:1.8px"><span style="margin-left:-1.6px">1</span></div>
</div>
<div id="bl"></div><div id="bg"></div>
<div class="bt" style="left:6px"></div><div class="bt" style="left:94px"></div><div class="bt" style="left:178px"></div><div class="bt" style="left:266px"></div><div class="bt" style="left:354px"></div><div class="bt" style="left:442px"></div><div class="bt" style="left:554px"></div><div class="bt" style="left:662px"></div><div class="bt" style="left:758px"></div>
</div>
</body></html>
